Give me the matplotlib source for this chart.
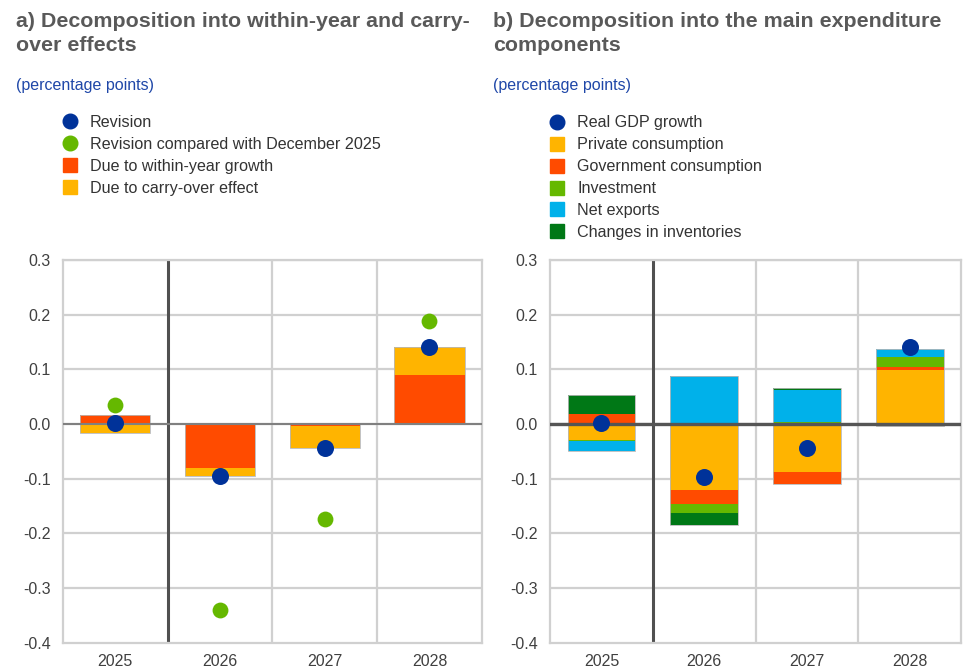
import matplotlib
matplotlib.use("Agg")
import matplotlib.pyplot as plt
import numpy as np
from matplotlib.lines import Line2D

plt.rcParams['font.family'] = ['Liberation Sans', 'DejaVu Sans']

# data
years = ['2025', '2026', '2027', '2028']
yticks = [-0.4, -0.3, -0.2, -0.1, 0.0, 0.1, 0.2, 0.3]

# panel a
within_year = [0.017, -0.080, -0.003, 0.090]
carry_over = [-0.016, -0.015, -0.041, 0.050]
revision = [0.002, -0.095, -0.044, 0.140]
revision_dec = [0.035, -0.340, -0.173, 0.189]

# panel b
private_cons = [-0.029, -0.120, -0.087, 0.098]
gov_cons = [0.018, -0.026, -0.023, 0.007]
investment = [-0.002, -0.016, 0.003, 0.017]
net_exports = [-0.019, 0.088, 0.060, 0.016]
inventories = [0.035, -0.023, 0.003, -0.004]
gdp_growth = [0.002, -0.097, -0.043, 0.140]

DARK_BLUE = '#003299'
YELLOW = '#ffb400'
RED = '#ff4b00'
GREEN = '#65b800'
CYAN = '#00b1ea'
DKGREEN = '#007816'
TXT = '#404040'
GRID = '#d0d0d0'


def stacked(ax, series, colors, width=0.66):
    """stack positive and negative parts separately"""
    x = np.arange(len(years))
    pos = np.zeros(len(years))
    neg = np.zeros(len(years))
    for vals, c in zip(series, colors):
        vals = np.array(vals)
        bottom = np.where(vals >= 0, pos, neg)
        ax.bar(x, vals, width, bottom=bottom, color=c, linewidth=0, zorder=3)
        pos = pos + np.where(vals >= 0, vals, 0)
        neg = neg + np.where(vals < 0, vals, 0)
    # faint outline around each whole stack
    ax.bar(x, pos - neg, width, bottom=neg, fill=False, edgecolor='#b8b8b8',
           linewidth=0.6, zorder=3.5)


def style_axis(ax, zero_color, zero_lw):
    ax.set_xlim(-0.5, 3.5)
    ax.set_ylim(-0.4, 0.3)
    ax.set_yticks(yticks)
    ax.set_yticklabels([f"{v:.1f}" for v in yticks])
    ax.set_xticks(range(4))
    ax.set_xticklabels(years)
    for xb in [1.5, 2.5]:
        ax.axvline(xb, color=GRID, lw=1.6, zorder=1)
    for yv in yticks[1:]:
        ax.axhline(yv, color=GRID, lw=1.6, zorder=1)
    for s in ax.spines.values():
        s.set_color(GRID)
        s.set_linewidth(1.6)
    ax.axvline(0.5, color='#505050', lw=2.2, zorder=2)
    ax.axhline(0, color=zero_color, lw=zero_lw, zorder=4)
    ax.tick_params(length=0, labelsize=11.5, colors=TXT)
    ax.tick_params(axis='y', pad=9)
    ax.tick_params(axis='x', pad=8)


fig = plt.figure(figsize=(9.65, 6.71), dpi=100)
ax1 = fig.add_axes([0.0653, 0.0422, 0.434, 0.5703])
ax2 = fig.add_axes([0.570, 0.0422, 0.426, 0.5703])

# panel a
stacked(ax1, [within_year, carry_over], [RED, YELLOW], width=0.67)
ax1.scatter(range(4), revision_dec, s=130, color=GREEN, zorder=5, linewidths=0)
ax1.scatter(range(4), revision, s=150, color=DARK_BLUE, zorder=6, linewidths=0)
style_axis(ax1, '#808080', 1.5)

# panel b
stacked(ax2, [private_cons, gov_cons, investment, net_exports, inventories],
        [YELLOW, RED, GREEN, CYAN, DKGREEN])
ax2.scatter(range(4), gdp_growth, s=150, color=DARK_BLUE, zorder=6, linewidths=0)
style_axis(ax2, '#555555', 2.4)

# titles
fig.text(0.0166, 0.982, "a) Decomposition into within-year and carry-\nover effects",
         fontsize=15.4, fontweight='bold', color='#595959', va='top', linespacing=1.32)
fig.text(0.511, 0.982, "b) Decomposition into the main expenditure\ncomponents",
         fontsize=15.4, fontweight='bold', color='#595959', va='top', linespacing=1.32)
fig.text(0.0166, 0.873, "(percentage points)", fontsize=11.5, color='#1f47a8', va='center')
fig.text(0.511, 0.873, "(percentage points)", fontsize=11.5, color='#1f47a8', va='center')


def dot(c):
    return Line2D([], [], marker='o', ls='', color=c, markersize=10.5)


def box(c):
    return Line2D([], [], marker='s', ls='', color=c, markersize=10)


leg_a = fig.legend([dot(DARK_BLUE), dot(GREEN), box(RED), box(YELLOW)],
                   ['Revision', 'Revision compared with December 2025',
                    'Due to within-year growth', 'Due to carry-over effect'],
                   loc='upper left', bbox_to_anchor=(0.064, 0.829), frameon=False,
                   fontsize=11.6, handlelength=1.0, handletextpad=0.75,
                   labelspacing=0.43, borderaxespad=0, borderpad=0)
leg_b = fig.legend([dot(DARK_BLUE), box(YELLOW), box(RED), box(GREEN), box(CYAN), box(DKGREEN)],
                   ['Real GDP growth', 'Private consumption', 'Government consumption',
                    'Investment', 'Net exports', 'Changes in inventories'],
                   loc='upper left', bbox_to_anchor=(0.569, 0.828), frameon=False,
                   fontsize=11.6, handlelength=1.0, handletextpad=0.75,
                   labelspacing=0.43, borderaxespad=0, borderpad=0)
for leg in (leg_a, leg_b):
    for t in leg.get_texts():
        t.set_color('#333333')

fig.savefig('out.png', dpi=100)
